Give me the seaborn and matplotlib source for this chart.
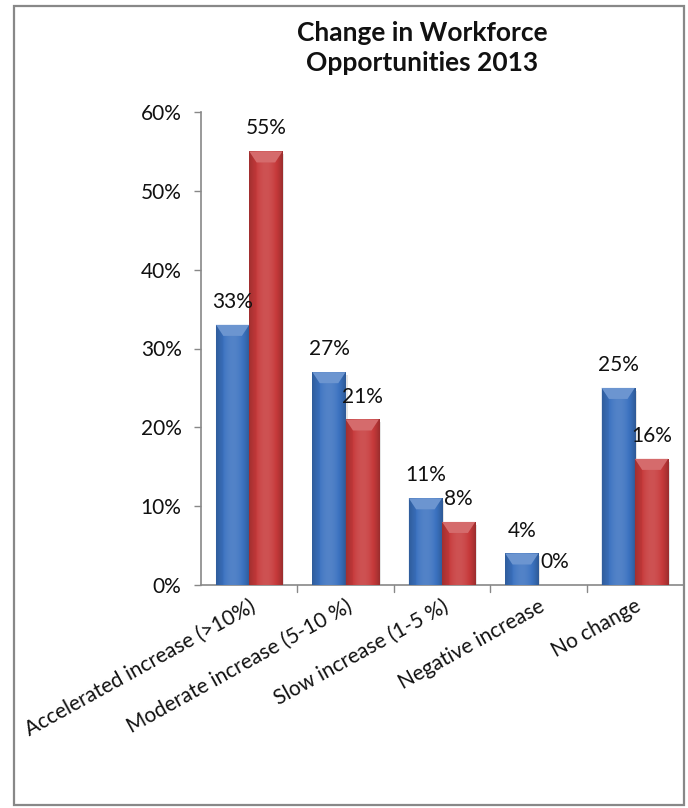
import numpy as np
import pandas as pd
import matplotlib
matplotlib.use("Agg")
import matplotlib.pyplot as plt
import matplotlib.colors as mcolors
from matplotlib.patches import Rectangle, Polygon
import seaborn as sns

categories = [
    "Accelerated increase (>10%)",
    "Moderate increase (5-10 %)",
    "Slow increase (1-5 %)",
    "Negative increase",
    "No change",
]
series_names = ["2012", "2013"]
values_blue = [33, 27, 11, 4, 25]
values_red = [55, 21, 8, 0, 16]
y_ticks = [0, 10, 20, 30, 40, 50, 60]

df = pd.DataFrame({
    "category": categories * 2,
    "series": [series_names[0]] * len(categories) + [series_names[1]] * len(categories),
    "value": values_blue + values_red,
})

sns.set_style("white")
plt.rcParams["font.family"] = ["Lato", "DejaVu Sans"]

fig = plt.figure(figsize=(6.88, 8.08), dpi=100)
ax = fig.add_axes([201 / 688, 1 - 585 / 808, 482 / 688, (585 - 112) / 808])

base_blue = "#3B72C0"
base_red = "#C73A3B"
sns.barplot(data=df, x="category", y="value", hue="series", order=categories,
            hue_order=series_names, palette=[base_blue, base_red],
            width=0.69, saturation=1, ax=ax, legend=False, linewidth=0)

ax.set_xlabel("")
ax.set_ylabel("")
ax.set_ylim(0, 60)
ax.set_xlim(-0.5, len(categories) - 0.5)
ax.set_yticks(y_ticks)
ax.set_yticklabels([f"{t}%" for t in y_ticks], fontsize=15, color="#111111")
ax.set_xticks(np.arange(len(categories)))
ax.set_xticklabels(categories, rotation=29, ha="right", rotation_mode="anchor",
                   fontsize=15, color="#111111")
ax.tick_params(axis="x", length=0, pad=8)
ax.tick_params(axis="y", length=5, width=1, color="#888888", pad=9, left=True)

# category separators on the x axis
for b in np.arange(0.5, len(categories) - 0.5, 1.0):
    ax.plot([b, b], [0, -0.9], color="#888888", lw=1, clip_on=False)

for side in ["top", "right"]:
    ax.spines[side].set_visible(False)
for side in ["left", "bottom"]:
    ax.spines[side].set_color("#888888")
    ax.spines[side].set_linewidth(1.2)


def shade(color, f):
    r, g, b = mcolors.to_rgb(color)
    if f >= 0:
        return (r + (1 - r) * f, g + (1 - g) * f, b + (1 - b) * f)
    return (r * (1 + f), g * (1 + f), b * (1 + f))


# give the bars a rounded, lit look: horizontal gradient plus a bevelled cap
patches = [p for p in ax.patches if isinstance(p, Rectangle) and p.get_width() > 0]
for p in patches:
    if p.get_height() <= 0:
        continue
    fc = p.get_facecolor()
    x0, w, h = p.get_x(), p.get_width(), p.get_height()
    prof = np.linspace(-1, 1, 64)
    k = 1 - prof ** 2
    col = np.array([shade(fc, 0.12 * kk - 0.22 * (1 - kk)) for kk in k])
    im = ax.imshow(col[np.newaxis, :, :], extent=[x0, x0 + w, 0, h],
                   aspect="auto", zorder=3, interpolation="bilinear")
    im.set_clip_path(p)
    # soft drop shadow
    ax.add_patch(Rectangle((x0 + 0.02, -0.35), w, h, facecolor="#000000",
                           alpha=0.10, lw=0, zorder=1.5))
    # bevelled top cap
    cap = min(1.4, h * 0.5)
    inset = w * 0.22
    ax.add_patch(Polygon([(x0, h), (x0 + w, h), (x0 + w - inset, h - cap),
                          (x0 + inset, h - cap)], closed=True,
                         facecolor=shade(fc, 0.25), lw=0, zorder=4))
    ax.add_patch(Polygon([(x0, h), (x0 + inset, h - cap), (x0 + inset, 0),
                          (x0, 0)], closed=True,
                         facecolor=shade(fc, -0.12), alpha=0.35, lw=0, zorder=4))

# value labels above each bar
for p in patches:
    h = p.get_height()
    if np.isnan(h):
        continue
    ax.annotate(f"{int(round(h))}%", (p.get_x() + p.get_width() / 2, h),
                xytext=(0, 16.5), textcoords="offset points", ha="center",
                va="center", fontsize=15, color="#111111", zorder=6)

fig.text(422 / 688, 1 - 33 / 808, "Change in Workforce", ha="center",
         va="center", fontsize=19, fontweight="bold", color="#111111")
fig.text(422 / 688, 1 - 63 / 808, "Opportunities 2013", ha="center",
         va="center", fontsize=19, fontweight="bold", color="#111111")

# chart frame
fig.add_artist(Rectangle((13.5 / 688, 1 - 805 / 808), (684 - 13.5) / 688,
                         (805 - 5.5) / 808, transform=fig.transFigure,
                         fill=False, edgecolor="#888888", lw=1.6))

fig.savefig("out.png", dpi=100)
